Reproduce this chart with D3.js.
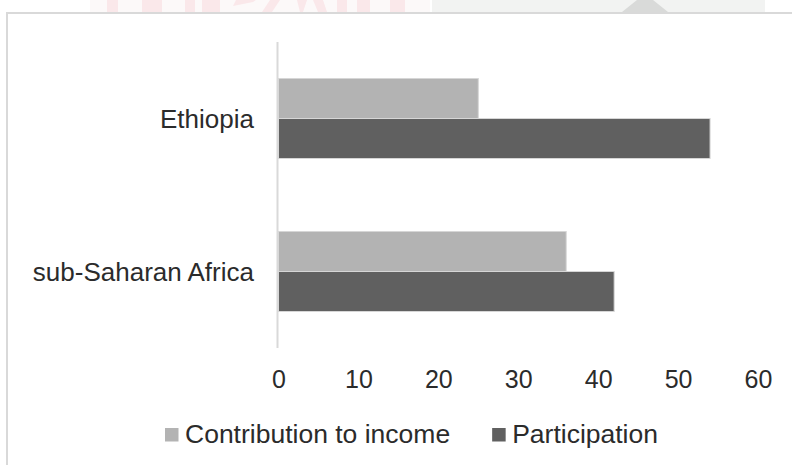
<!DOCTYPE html>
<html>
<head>
<meta charset="utf-8">
<script src="https://cdn.jsdelivr.net/npm/d3@7/dist/d3.min.js"></script>
<style>
  html, body { margin: 0; padding: 0; background: #ffffff; }
  svg { display: block; font-family: "Liberation Sans", Arial, sans-serif; }
</style>
</head>
<body>
<svg id="chart" width="792" height="465"></svg>
<script>
// Regions shown on the vertical axis (top to bottom)
const categories = ["Ethiopia", "sub-Saharan Africa"];
// Series names in legend order
const seriesNames = ["Contribution to income", "Participation"];
// Values per series, aligned with categories
const contributionToIncome = [25, 36];
const participation = [54, 42];
// Horizontal axis ticks
const xTicks = [0, 10, 20, 30, 40, 50, 60];

const seriesColors = ["#b3b3b3", "#606060"];
const seriesValues = [contributionToIncome, participation];

const svg = d3.select("#chart");
const textColor = "#2b2b2b";

// Faded header strip above the chart frame
const header = svg.append("g");
header.append("rect").attr("x", 90).attr("y", 0).attr("width", 340).attr("height", 12).attr("fill", "#fcf9f9");
header.append("rect").attr("x", 432).attr("y", 0).attr("width", 333).attr("height", 12).attr("fill", "#f2f3f2");
header.append("path").attr("d", "M622,12 L637,0 L653,0 L668,12 Z").attr("fill", "#d9dad9");
const pink = "#fae8ea";
[[107, 11], [142, 20], [185, 10], [202, 18], [337, 10], [357, 13], [390, 15]].forEach(([x, w]) => {
  header.append("rect").attr("x", x).attr("y", 0).attr("width", w).attr("height", 12).attr("fill", pink);
});
header.append("path").attr("d", "M233,6 L253,2 L256,0 L236,0 Z").attr("fill", pink);
header.append("path").attr("d", "M262,12 L272,12 L280,0 L270,0 Z").attr("fill", pink);
header.append("path").attr("d", "M297,0 L307,0 L303,12 L300,12 Z").attr("fill", pink);
header.append("path").attr("d", "M313,0 L323,0 L327,12 L318,12 Z").attr("fill", pink);

// Chart frame
svg.append("rect")
  .attr("x", 7).attr("y", 13)
  .attr("width", 800).attr("height", 470)
  .attr("fill", "#ffffff")
  .attr("stroke", "#d9d9d9")
  .attr("stroke-width", 2);

// Scales
const x = d3.scaleLinear().domain([0, 60]).range([278.5, 758]);
const y = d3.scaleBand().domain(categories).range([42, 348]).padding(0);
const inner = d3.scaleBand().domain(seriesNames)
  .range([0, y.bandwidth()])
  .paddingInner(0)
  .paddingOuter((y.bandwidth() - 80) / 2 / 40);

// Bars
seriesNames.forEach((name, si) => {
  svg.append("g")
    .selectAll("rect")
    .data(categories.map((c, i) => ({ c, v: seriesValues[si][i] })))
    .join("rect")
    .attr("x", x(0))
    .attr("y", d => y(d.c) + inner(name))
    .attr("width", d => x(d.v) - x(0))
    .attr("height", inner.bandwidth())
    .attr("fill", seriesColors[si])
    .attr("stroke", "#d6d6d6")
    .attr("stroke-width", 1);
});

// Vertical category axis line
svg.append("line")
  .attr("x1", x(0) - 1).attr("x2", x(0) - 1)
  .attr("y1", y.range()[0]).attr("y2", y.range()[1])
  .attr("stroke", "#d9d9d9")
  .attr("stroke-width", 2);

// Category labels
svg.append("g")
  .selectAll("text")
  .data(categories)
  .join("text")
  .attr("x", 254)
  .attr("y", d => y(d) + y.bandwidth() / 2 + 9)
  .attr("text-anchor", "end")
  .attr("font-size", 26)
  .attr("fill", textColor)
  .text(d => d);

// Value axis (labels only)
const xAxis = svg.append("g")
  .attr("transform", "translate(0,362)")
  .call(d3.axisBottom(x).tickValues(xTicks).tickSize(0).tickPadding(0).tickFormat(d3.format("d")));
xAxis.select(".domain").remove();
xAxis.selectAll("text")
  .attr("font-family", "Liberation Sans, Arial, sans-serif")
  .attr("font-size", 25)
  .attr("fill", textColor)
  .attr("dy", null)
  .attr("y", 26);

// Legend
const legend = svg.append("g");
let lx = 165;
seriesNames.forEach((name, i) => {
  legend.append("rect")
    .attr("x", lx).attr("y", 428)
    .attr("width", 13.5).attr("height", 13.5)
    .attr("fill", seriesColors[i]);
  const t = legend.append("text")
    .attr("x", lx + 20).attr("y", 443)
    .attr("font-size", 26.5)
    .attr("fill", textColor)
    .text(name);
  lx = lx + 20 + t.node().getComputedTextLength() + 42;
});
</script>
</body>
</html>
